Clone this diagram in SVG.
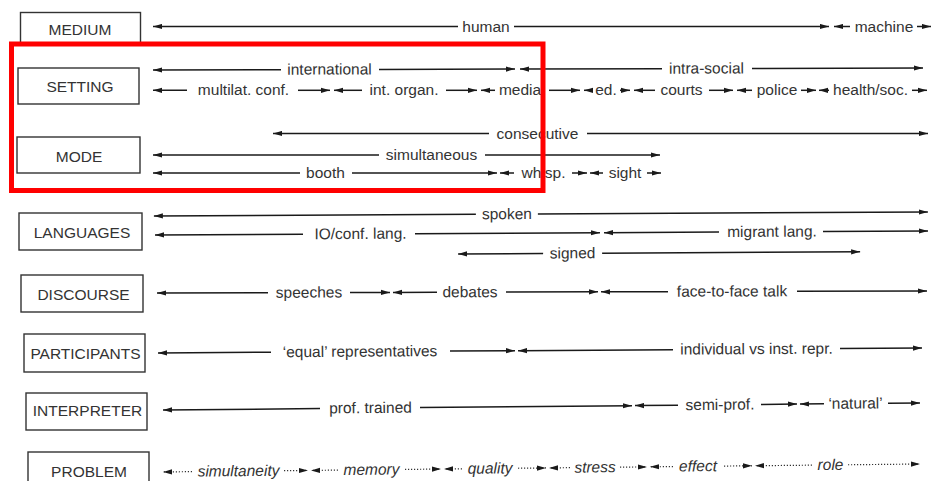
<svg xmlns="http://www.w3.org/2000/svg" width="935" height="481" viewBox="0 0 935 481">
  <style>
    .box { fill: #ffffff; stroke: #333333; stroke-width: 1.4; }
    .name { font-family: "Liberation Sans", Arial, sans-serif; font-size: 15.5px; fill: #333333; text-anchor: middle; }
    .lbl { font-family: "Liberation Sans", Arial, sans-serif; font-size: 15.5px; fill: #333333; text-anchor: middle; }
    .it { font-style: italic; }
    .ln { stroke: #1a1a1a; stroke-width: 1.5; fill: none; marker-end: url(#ah); }
    .dt { stroke: #333333; stroke-width: 1.2; stroke-dasharray: 1.2 1.8; fill: none; marker-end: url(#ah); }
    .hl { fill: none; stroke: #ff0000; stroke-width: 5; }
  </style>
  <defs>
    <marker id="ah" viewBox="0 0 9 6" markerWidth="9" markerHeight="6" refX="9" refY="3" orient="auto" markerUnits="userSpaceOnUse">
      <path d="M0,0.4 L9,3 L0,5.6 Z" fill="#1a1a1a"/>
    </marker>
  </defs>
  <rect width="935" height="481" fill="#ffffff"/>

  <!-- dimension labels -->
  <g id="medium"><rect class="box" x="20.5" y="12.5" width="120" height="32"/><text class="name" x="80" y="35">MEDIUM</text></g>
  <g id="setting"><rect class="box" x="18" y="68" width="121" height="36"/><text class="name" x="80" y="92">SETTING</text></g>
  <g id="mode"><rect class="box" x="17" y="137" width="123" height="36"/><text class="name" x="79" y="162">MODE</text></g>
  <g id="languages"><rect class="box" x="19" y="213" width="123" height="37"/><text class="name" x="82" y="238">LANGUAGES</text></g>
  <g id="discourse"><rect class="box" x="21" y="275" width="122" height="37"/><text class="name" x="83.5" y="300">DISCOURSE</text></g>
  <g id="participants"><rect class="box" x="24" y="334" width="121" height="38"/><text class="name" x="85.5" y="359">PARTICIPANTS</text></g>
  <g id="interpreter"><rect class="box" x="26" y="393" width="121" height="37"/><text class="name" x="87.5" y="416">INTERPRETER</text></g>
  <g id="problem"><rect class="box" x="28" y="452" width="121" height="35"/><text class="name" x="89" y="477">PROBLEM</text></g>

  <!-- scales: each segment is a double arrow with its label in the middle -->
  <g id="connectors">
    <g id="row-medium">
      <line class="ln" x1="458" y1="26.5" x2="153" y2="26.5"/><line class="ln" x1="514" y1="26.5" x2="829" y2="26.5"/>
      <text class="lbl" x="486" y="31.5">human</text>
      <line class="ln" x1="850" y1="26.5" x2="834" y2="26.5"/><line class="ln" x1="917" y1="26.5" x2="931" y2="26.5"/>
      <text class="lbl" x="884" y="31.5">machine</text>
    </g>

    <g id="row-setting-1" transform="rotate(-0.15 540 69)">
      <line class="ln" x1="281" y1="69" x2="153" y2="69"/><line class="ln" x1="379" y1="69" x2="515" y2="69"/>
      <text class="lbl" x="329.5" y="74">international</text>
      <line class="ln" x1="662" y1="69" x2="520" y2="69"/><line class="ln" x1="752" y1="69" x2="923" y2="69"/>
      <text class="lbl" x="706.5" y="74">intra-social</text>
    </g>

    <g id="row-setting-2">
      <line class="ln" x1="187" y1="90.3" x2="153" y2="90.3"/><line class="ln" x1="298" y1="90.3" x2="330" y2="90.3"/>
      <text class="lbl" x="243.5" y="95.3">multilat. conf.</text>
      <line class="ln" x1="362" y1="90.3" x2="334" y2="90.3"/><line class="ln" x1="446" y1="90.3" x2="477" y2="90.3"/>
      <text class="lbl" x="404" y="95.3">int. organ.</text>
      <line class="ln" x1="495" y1="90.3" x2="481" y2="90.3"/><line class="ln" x1="549" y1="90.3" x2="580" y2="90.3"/>
      <text class="lbl" x="520" y="95.3">media</text>
      <line class="ln" x1="591" y1="90.3" x2="584" y2="90.3"/><line class="ln" x1="620" y1="90.3" x2="630" y2="90.3"/>
      <text class="lbl" x="606" y="95.3">ed.</text>
      <line class="ln" x1="655" y1="90.3" x2="634" y2="90.3"/><line class="ln" x1="709" y1="90.3" x2="733" y2="90.3"/>
      <text class="lbl" x="681.5" y="95.3">courts</text>
      <line class="ln" x1="752" y1="90.3" x2="737" y2="90.3"/><line class="ln" x1="801" y1="90.3" x2="816" y2="90.3"/>
      <text class="lbl" x="777" y="95.3">police</text>
      <line class="ln" x1="829" y1="90.3" x2="819" y2="90.3"/><line class="ln" x1="912" y1="90.3" x2="927" y2="90.3"/>
      <text class="lbl" x="870.5" y="95.3">health/soc.</text>
    </g>

    <g id="row-mode">
      <line class="ln" x1="489" y1="133.5" x2="273" y2="133.5"/><line class="ln" x1="587" y1="133.5" x2="928" y2="133.5"/>
      <text class="lbl" x="537.5" y="138.5">consecutive</text>
      <line class="ln" x1="379" y1="155" x2="153" y2="155"/><line class="ln" x1="485" y1="155" x2="660" y2="155"/>
      <text class="lbl" x="431.5" y="160">simultaneous</text>
      <line class="ln" x1="300" y1="173" x2="153" y2="173"/><line class="ln" x1="352" y1="173" x2="497" y2="173"/>
      <text class="lbl" x="325.5" y="178">booth</text>
      <line class="ln" x1="514" y1="173" x2="500" y2="173"/><line class="ln" x1="572" y1="173" x2="587" y2="173"/>
      <text class="lbl" x="543.5" y="178">whisp.</text>
      <line class="ln" x1="603" y1="173" x2="590" y2="173"/><line class="ln" x1="647" y1="173" x2="661" y2="173"/>
      <text class="lbl" x="625" y="178">sight</text>
    </g>

    <g id="row-languages" transform="rotate(-0.3 540 233)">
      <line class="ln" x1="476" y1="214" x2="154" y2="214"/><line class="ln" x1="538" y1="214" x2="928" y2="214"/>
      <text class="lbl" x="507" y="219">spoken</text>
      <line class="ln" x1="303" y1="233" x2="155" y2="233"/><line class="ln" x1="415" y1="233" x2="600" y2="233"/>
      <text class="lbl" x="360.5" y="238">IO/conf. lang.</text>
      <line class="ln" x1="719" y1="233" x2="604" y2="233"/><line class="ln" x1="823" y1="233" x2="928" y2="233"/>
      <text class="lbl" x="772" y="238">migrant lang.</text>
      <line class="ln" x1="543" y1="253.5" x2="458" y2="253.5"/><line class="ln" x1="602" y1="253.5" x2="860" y2="253.5"/>
      <text class="lbl" x="572.5" y="258.5">signed</text>
    </g>

    <g id="row-discourse" transform="rotate(-0.15 540 292)">
      <line class="ln" x1="268" y1="292" x2="157" y2="292"/><line class="ln" x1="350" y1="292" x2="390" y2="292"/>
      <text class="lbl" x="309" y="297">speeches</text>
      <line class="ln" x1="437" y1="292" x2="393" y2="292"/><line class="ln" x1="506" y1="292" x2="598" y2="292"/>
      <text class="lbl" x="470" y="297">debates</text>
      <line class="ln" x1="668" y1="292" x2="601" y2="292"/><line class="ln" x1="797" y1="292" x2="927" y2="292"/>
      <text class="lbl" x="732" y="297">face-to-face talk</text>
    </g>

    <g id="row-participants" transform="rotate(-0.37 540 350.5)">
      <line class="ln" x1="271" y1="350.5" x2="158" y2="350.5"/><line class="ln" x1="450" y1="350.5" x2="515" y2="350.5"/>
      <text class="lbl" x="360" y="355.5">&#8216;equal&#8217; representatives</text>
      <line class="ln" x1="673" y1="350.5" x2="518" y2="350.5"/><line class="ln" x1="840" y1="350.5" x2="922" y2="350.5"/>
      <text class="lbl" x="756.5" y="355.5">individual vs inst. repr.</text>
    </g>

    <g id="row-interpreter" transform="rotate(-0.53 540 406.5)">
      <line class="ln" x1="320" y1="406.5" x2="163" y2="406.5"/><line class="ln" x1="420" y1="406.5" x2="632" y2="406.5"/>
      <text class="lbl" x="370.5" y="411.5">prof. trained</text>
      <line class="ln" x1="678" y1="406.5" x2="635" y2="406.5"/><line class="ln" x1="761" y1="406.5" x2="797" y2="406.5"/>
      <text class="lbl" x="720" y="411.5">semi-prof.</text>
      <line class="ln" x1="824" y1="406.5" x2="800" y2="406.5"/><line class="ln" x1="888" y1="406.5" x2="920" y2="406.5"/>
      <text class="lbl" x="855.5" y="411.5">&#8216;natural&#8217;</text>
    </g>

    <g id="row-problem" transform="rotate(-0.6 540 468)">
      <line class="dt" x1="192" y1="468" x2="163" y2="468"/><line class="dt" x1="284" y1="468" x2="308" y2="468"/>
      <text class="lbl it" x="238.5" y="473">simultaneity</text>
      <line class="dt" x1="338" y1="468" x2="311" y2="468"/><line class="dt" x1="405" y1="468" x2="441" y2="468"/>
      <text class="lbl it" x="371.5" y="473">memory</text>
      <line class="dt" x1="462" y1="468" x2="444" y2="468"/><line class="dt" x1="518" y1="468" x2="546" y2="468"/>
      <text class="lbl it" x="490" y="473">quality</text>
      <line class="dt" x1="570" y1="468" x2="549" y2="468"/><line class="dt" x1="620" y1="468" x2="647" y2="468"/>
      <text class="lbl it" x="595" y="473">stress</text>
      <line class="dt" x1="673" y1="468" x2="650" y2="468"/><line class="dt" x1="724" y1="468" x2="752" y2="468"/>
      <text class="lbl it" x="698" y="473">effect</text>
      <line class="dt" x1="812" y1="468" x2="755" y2="468"/><line class="dt" x1="848" y1="468" x2="920" y2="468"/>
      <text class="lbl it" x="830.5" y="473">role</text>
    </g>
  </g>

  <!-- red highlight frame around SETTING and MODE -->
  <rect class="hl" x="11.5" y="44" width="531.5" height="146.5"/>
</svg>
